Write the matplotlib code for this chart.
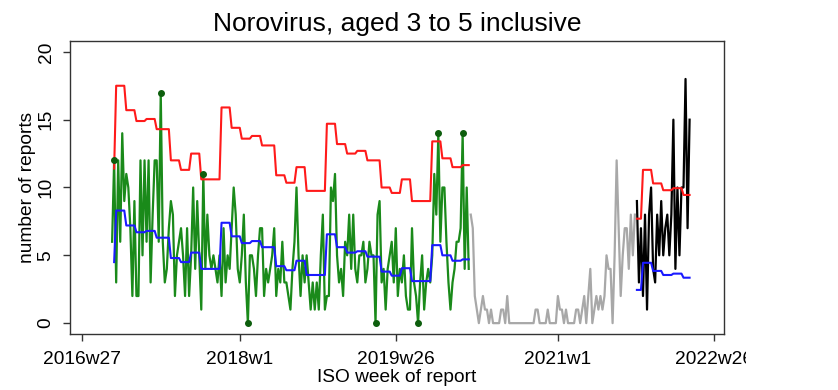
import matplotlib.pyplot as plt
import numpy as np
from datetime import date
from matplotlib.transforms import Bbox, TransformedBbox

# x axis tick labels (ISO weeks)
tick_labels = ['2016w27', '2018w1', '2019w26', '2021w1', '2022w26']
y_ticks = [0, 5, 10, 15, 20]

# weekly counts, 2016w42 - 2020w10 (green)
green_start = '2016w42'
green_counts = [
    6, 12, 3, 12, 6, 14, 9, 11, 10, 7,
    2, 9, 2, 2, 12, 5, 12, 6, 12, 3,
    8, 12, 12, 6, 17, 6, 3, 4, 7, 9,
    8, 2, 5, 6, 7, 5, 2, 7, 2, 5,
    10, 4, 9, 5, 1, 11, 4, 8, 5, 4,
    5, 4, 3, 5, 2, 7, 3, 5, 4, 7,
    10, 8, 4, 3, 5, 8, 3, 0, 5, 5,
    4, 2, 5, 7, 7, 2, 4, 3, 4, 5,
    7, 2, 4, 3, 6, 3, 3, 2, 1, 4,
    6, 10, 5, 2, 5, 3, 5, 3, 1, 3,
    1, 3, 1, 5, 8, 1, 2, 2, 10, 9,
    11, 5, 3, 4, 2, 6, 5, 8, 4, 8,
    4, 3, 5, 5, 6, 3, 4, 6, 5, 5,
    0, 8, 9, 3, 4, 1, 4, 5, 6, 3,
    7, 2, 4, 3, 5, 2, 1, 1, 7, 3,
    2, 0, 3, 5, 1, 3, 4, 3, 5, 11,
    8, 14, 6, 10, 10, 6, 3, 1, 3, 4,
    6, 6, 7, 14, 4, 10, 4,
]

# weekly counts, 2020w11 - 2021w39 (grey, excluded period)
grey_start = '2020w11'
grey_counts = [
    8, 7, 2, 1, 0, 1, 2, 1, 1, 0,
    1, 0, 0, 0, 0, 1, 1, 0, 2, 0,
    0, 0, 0, 0, 0, 0, 0, 0, 0, 0,
    0, 0, 1, 1, 0, 0, 0, 0, 1, 0,
    0, 0, 0, 2, 1, 1, 0, 1, 0, 0,
    0, 0, 1, 1, 0, 1, 2, 0, 2, 4,
    0, 1, 2, 1, 2, 1, 2, 5, 4, 4,
    0, 5, 12, 7, 2, 5, 7, 7, 4, 8,
    5, 8,
]

# weekly counts, 2021w40 onwards (black)
black_start = '2021w40'
black_counts = [9, 3, 7, 2, 8, 1, 8, 10, 4, 3, 8, 5, 9, 5, 7, 8, 5, 8,
                15, 4, 10, 5, 10, 10, 18, 7, 15]

# threshold (red) and baseline (blue): step levels and number of weeks at each level
thr_start = '2016w43'
red_levels = [11.4, 17.5, 15.7, 14.9, 15.05, 14.3, 12.0, 11.3, 12.5, 10.6,
              15.9, 14.4, 13.6, 13.8, 13.1, 10.9, 10.35, 11.5, 9.75,
              14.7, 13.2, 12.5, 12.7, 12.0, 10.0, 9.6, 10.6, 9.0,
              13.4, 12.15, 11.5, 11.65]
blue_levels = [4.5, 8.3, 7.2, 6.7, 6.8, 6.3, 4.8, 4.5, 5.2, 4.0,
               7.4, 6.4, 5.9, 6.05, 5.6, 4.2, 3.9, 4.6, 3.55,
               6.55, 5.6, 5.2, 5.3, 4.9, 3.8, 3.5, 4.05, 3.1,
               5.75, 5.0, 4.6, 4.7]
thr_weeks = [1, 5, 5, 5, 5, 7, 5, 5, 5, 10,
             5, 5, 5, 5, 7, 5, 5, 5, 10,
             5, 5, 5, 5, 7, 5, 5, 5, 10,
             5, 5, 5, 4]

thr2_start = '2021w40'
red2_levels = [7.7, 11.3, 10.3, 9.8, 9.95, 9.45]
blue2_levels = [2.45, 4.45, 3.85, 3.55, 3.65, 3.35]
thr2_weeks = [3, 5, 5, 5, 5, 4]

origin = date.fromisocalendar(2016, 27, 1)


def week_x(label):
    year, week = label.split('w')
    return (date.fromisocalendar(int(year), int(week), 1) - origin).days / 7


def weeks_from(label, n):
    return week_x(label) + np.arange(n)


plt.rcParams['font.family'] = ['Liberation Sans', 'DejaVu Sans']

fig = plt.figure(figsize=(8.38, 3.9), dpi=100)
ax = fig.add_axes([0.0835, 0.1436, 0.7805, 0.7513])

green = np.array(green_counts, dtype=float)
xg = weeks_from(green_start, len(green))
red = np.repeat(red_levels, thr_weeks)
blue = np.repeat(blue_levels, thr_weeks)
xt = weeks_from(thr_start, len(red))
red2 = np.repeat(red2_levels, thr2_weeks)
blue2 = np.repeat(blue2_levels, thr2_weeks)
xt2 = weeks_from(thr2_start, len(red2))

ax.plot(xg, green, color='#1a8a1a', lw=1.6)
ax.plot(weeks_from(grey_start, len(grey_counts)), grey_counts, color='#a8a8a8', lw=1.6)
ax.plot(weeks_from(black_start, len(black_counts)), black_counts, color='black', lw=1.6)
ax.plot(xt, red, color='#ff1a1a', lw=1.5)
ax.plot(xt, blue, color='#1a1aff', lw=1.5)
ax.plot(xt2, red2, color='#ff1a1a', lw=1.5)
ax.plot(xt2, blue2, color='#1a1aff', lw=1.5)

# flag weeks above threshold or at zero
red_on_green = np.interp(xg, xt, red, left=np.inf)
flag = (green > red_on_green) | (green == 0)
ax.plot(xg[flag], green[flag], 'o', color='#0d5e0d', ms=4, zorder=5)

ax.set_xlim(-5.8, 317)
ax.set_ylim(-0.8, 20.8)
ax.set_xticks([week_x(t) for t in tick_labels])
ax.set_xticklabels(tick_labels)
ax.set_yticks(y_ticks)
ax.set_yticklabels([str(v) for v in y_ticks], rotation=90, va='center')
ax.tick_params(axis='both', direction='out', length=5, width=1, color='#333333',
               labelsize=13.8)
ax.tick_params(axis='x', pad=7)
ax.tick_params(axis='y', pad=6)

for s in ax.spines.values():
    s.set_color('#333333')
    s.set_linewidth(1.0)

ax.set_title('Norovirus, aged 3 to 5 inclusive', fontsize=19, pad=7)
ax.set_xlabel('ISO week of report', fontsize=13.8, labelpad=1)
ax.set_ylabel('number of reports', fontsize=13.8)
ax.yaxis.set_label_coords(-0.052, 0.5)

# last tick label is cut off at the graph edge
clip = TransformedBbox(Bbox([[0, 0], [746 / 838, 1]]), fig.transFigure)
last = ax.get_xticklabels()[-1]
last.set_clip_box(clip)
last.set_clip_on(True)

fig.savefig('out.png', dpi=100)
